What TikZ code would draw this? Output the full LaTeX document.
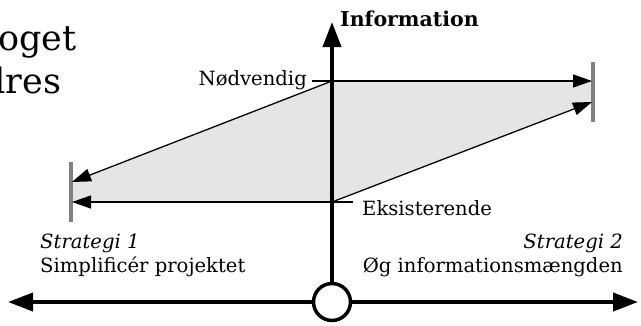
\documentclass[tikz,border=0pt]{standalone}
\usepackage{fontspec}
\setmainfont{DejaVu Serif}
\usetikzlibrary{arrows.meta}
\begin{document}
\begin{tikzpicture}[x=1pt,y=-1pt,
  axis/.style={line width=4pt,-{Triangle[length=25pt,width=18pt]}},
  thinarrow/.style={line width=1.3pt,-{Triangle[length=19pt,width=13pt]}},
  tick/.style={line width=1.3pt},
  bar/.style={line width=4.5pt,draw=black!50},
  lbl/.style={font=\fontsize{19.6}{23}\selectfont,inner sep=0pt},
  big/.style={font=\fontsize{35}{40}\selectfont,inner sep=0pt,anchor=base west}]
\useasboundingbox (0,0) rectangle (641,325);
\clip (0,0) rectangle (641,325);
% points
\coordinate (N) at (332,81);
\coordinate (E) at (332,202);
\coordinate (Rt) at (592,81);
\coordinate (Rb) at (592,102);
\coordinate (Lt) at (72,182);
\coordinate (Lb) at (72,202);
\coordinate (Ntick) at (312,81);
\coordinate (Etick) at (353,202);
\coordinate (top) at (332,22);
\coordinate (left) at (8,302);
\coordinate (right) at (638,302);
% fill
\fill[black!10] (N) -- (Rt) -- (Rb) -- (E) -- (Lb) -- (Lt) -- cycle;
% bars
\draw[bar] (593,62) -- (593,122);
\draw[bar] (71,162) -- (71,222);
% arrows
\draw[tick] (Ntick) -- (N);
\draw[tick] (E) -- (Etick);
\draw[thinarrow] (N) -- (Rt);
\draw[thinarrow] (E) -- (Rb);
\draw[thinarrow] (N) -- (Lt);
\draw[thinarrow] (E) -- (Lb);
% axes
\node[circle,draw,line width=3.5pt,fill=white,minimum size=37pt,inner sep=0pt] (o) at (332,302) {};
\draw[axis] (o.north) -- (top);
\draw[axis] (o.west) -- (left);
\draw[axis] (o.east) -- (right);
% labels
\node[lbl,anchor=west,font=\fontsize{20.5}{24}\selectfont\bfseries] (info) at (340,19) {Information};
\node[lbl,anchor=east] (nod) at (307,80) {Nødvendig};
\node[lbl,anchor=west] (eks) at (362,208) {Eksisterende};
\node[lbl,anchor=west] (s1) at (40,243) {\itshape Strategi 1};
\node[lbl,anchor=west] (s1b) at (40,267) {Simplificér projektet};
\node[lbl,anchor=east] (s2) at (623,243) {\itshape Strategi 2};
\node[lbl,anchor=east] (s2b) at (623,267) {Øg informationsmængden};
\node[big] (t1) at (-2,50) {oget};
\node[big] (t2) at (-17,93) {dres};
\end{tikzpicture}
\end{document}
